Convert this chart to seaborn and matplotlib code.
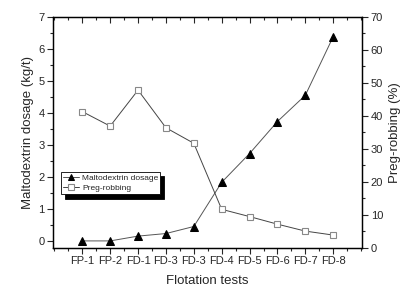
import numpy as np
import pandas as pd
import seaborn as sns
import matplotlib.pyplot as plt
from matplotlib.ticker import MultipleLocator

# Données
tests = ["FP-1", "FP-2", "FD-1", "FD-3", "FD-3", "FD-4", "FD-5", "FD-6", "FD-7", "FD-8"]
maltodextrin = [0.0, 0.0, 0.15, 0.23, 0.45, 1.83, 2.73, 3.73, 4.55, 6.38]
preg_robbing = [41.3, 36.9, 47.8, 36.4, 31.7, 11.7, 9.5, 7.2, 5.1, 3.9]

# FD-3 apparaît deux fois : on trace sur des positions numériques
pos = np.arange(len(tests))
df = pd.DataFrame({"pos": pos, "malto": maltodextrin, "preg": preg_robbing})

sns.set_style("ticks")
plt.rcParams['font.family'] = ['Liberation Sans', 'DejaVu Sans']

fig = plt.figure(figsize=(4.03, 2.9), dpi=100)
ax = fig.add_axes([0.1315, 0.145, 0.768, 0.797])
ax2 = ax.twinx()

sns.lineplot(data=df, x="pos", y="malto", ax=ax, color="#555555", lw=0.7,
             marker="^", markersize=6, markerfacecolor="black",
             markeredgecolor="black", label="Maltodextrin dosage", legend=False)
sns.lineplot(data=df, x="pos", y="preg", ax=ax2, color="#444444", lw=0.7,
             marker="s", markersize=5, markerfacecolor="white",
             markeredgecolor="#888888", markeredgewidth=0.8,
             label="Preg-robbing", legend=False)

ax.set_xlim(-1.05, 10.05)
ax.set_ylim(-0.22, 7)
ax2.set_ylim(0, 70)

ax.set_xticks(pos)
ax.set_xticklabels(tests, fontsize=8)
ax.xaxis.set_minor_locator(MultipleLocator(0.5))
ax.yaxis.set_major_locator(MultipleLocator(1))
ax.yaxis.set_minor_locator(MultipleLocator(0.5))
ax2.yaxis.set_major_locator(MultipleLocator(10))
ax2.yaxis.set_minor_locator(MultipleLocator(5))

ax.tick_params(axis="both", which="major", labelsize=8, length=4, width=0.8, pad=2)
ax.tick_params(axis="both", which="minor", length=2, width=0.8)
ax.tick_params(axis="x", which="both", top=False, direction="out")
ax2.tick_params(axis="y", which="major", labelsize=8, length=4, width=0.8, pad=2)
ax2.tick_params(axis="y", which="minor", length=2, width=0.8)

# ticks du haut vers l'intérieur, via l'axe x jumeau
ax2.xaxis.set_visible(True)
ax2.tick_params(axis="x", which="major", top=True, bottom=False, direction="in",
                labeltop=False, labelbottom=False, length=4, width=0.8)
ax2.tick_params(axis="x", which="minor", top=True, bottom=False, direction="in",
                length=2, width=0.8)
ax2.set_xlabel("")

for a in (ax, ax2):
    for s in a.spines.values():
        s.set_visible(True)
        s.set_linewidth(0.9)
        s.set_color("black")

ax.set_xlabel("Flotation tests", fontsize=9.5, labelpad=6)
ax.set_ylabel("Maltodextrin dosage (kg/t)", fontsize=9.5, labelpad=3)
ax2.set_ylabel("Preg-robbing (%)", fontsize=9.5, labelpad=4)

h1, l1 = ax.get_legend_handles_labels()
h2, l2 = ax2.get_legend_handles_labels()
leg = ax2.legend(h1 + h2, l1 + l2, loc="upper left", bbox_to_anchor=(0.025, 0.33),
                 fontsize=6, frameon=True, fancybox=False, edgecolor="black",
                 shadow={"color": "black", "ox": 3, "oy": -3, "alpha": 1},
                 borderpad=0.25, handlelength=2.0, handletextpad=0.3,
                 labelspacing=0.35, borderaxespad=0, markerscale=0.75)
leg.get_frame().set_linewidth(0.6)

plt.savefig("out.png", dpi=100)
